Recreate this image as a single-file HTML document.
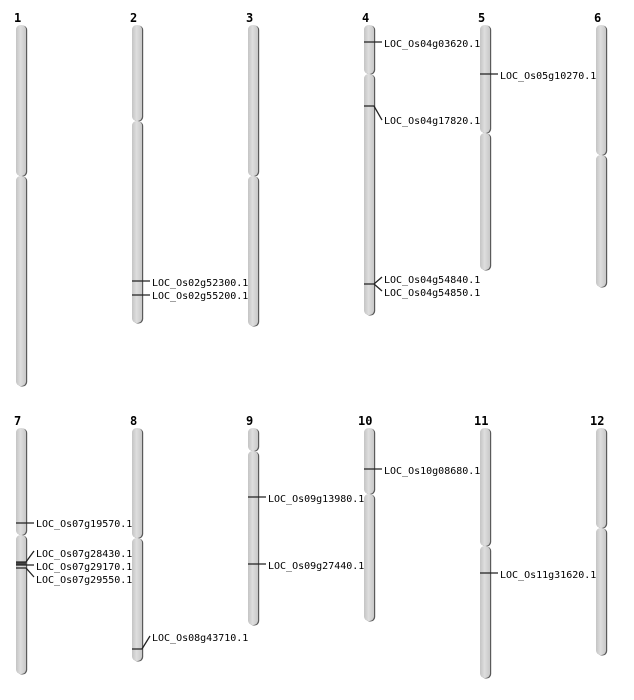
<!DOCTYPE html>
<html><head><meta charset="utf-8"><style>
html,body{margin:0;padding:0;background:#fff}
svg{display:block}
.n{font-family:"DejaVu Sans Mono","Liberation Mono",monospace;font-size:12px;font-weight:bold;fill:#000}
.l{font-family:"DejaVu Sans Mono","Liberation Mono",monospace;font-size:10px;fill:#000}
.m{stroke:#222;stroke-width:1.3;fill:none}
</style></head><body>
<svg width="634" height="700" viewBox="0 0 634 700" xmlns="http://www.w3.org/2000/svg">
<defs>
<linearGradient id="g" x1="0" x2="1" y1="0" y2="0">
<stop offset="0" stop-color="#c4c4c4"/><stop offset="0.45" stop-color="#dedede"/><stop offset="1" stop-color="#c8c8c8"/>
</linearGradient>
</defs>
<g id="chr"></g>
<text class="n" x="14" y="22">1</text>
<text class="n" x="130" y="22">2</text>
<text class="n" x="246" y="22">3</text>
<text class="n" x="362" y="22">4</text>
<text class="n" x="478" y="22">5</text>
<text class="n" x="594" y="22">6</text>
<text class="n" x="14" y="425">7</text>
<text class="n" x="130" y="425">8</text>
<text class="n" x="246" y="425">9</text>
<text class="n" x="358" y="425">10</text>
<text class="n" x="474" y="425">11</text>
<text class="n" x="590" y="425">12</text>
<path class="m" d="M132 281H150M132 295H150"/>
<text class="l" x="152" y="286">LOC_Os02g52300.1</text>
<text class="l" x="152" y="299">LOC_Os02g55200.1</text>
<path class="m" d="M364 42H382M364 106H374L382 120M364 284H374L382 277M374 284L382 291"/>
<text class="l" x="384" y="47">LOC_Os04g03620.1</text>
<text class="l" x="384" y="124">LOC_Os04g17820.1</text>
<text class="l" x="384" y="283">LOC_Os04g54840.1</text>
<text class="l" x="384" y="296">LOC_Os04g54850.1</text>
<path class="m" d="M480 74H498"/>
<text class="l" x="500" y="79">LOC_Os05g10270.1</text>
<path class="m" d="M16 523H34M16 562H26L34 551M16 565H34M16 568H26L34 577"/>
<path stroke="#444" stroke-width="2" d="M16 563.5H26"/>
<text class="l" x="36" y="527">LOC_Os07g19570.1</text>
<text class="l" x="36" y="557">LOC_Os07g28430.1</text>
<text class="l" x="36" y="570">LOC_Os07g29170.1</text>
<text class="l" x="36" y="583">LOC_Os07g29550.1</text>
<path class="m" d="M132 649H142L150 636"/>
<text class="l" x="152" y="641">LOC_Os08g43710.1</text>
<path class="m" d="M248 497H266M248 564H266"/>
<text class="l" x="268" y="502">LOC_Os09g13980.1</text>
<text class="l" x="268" y="569">LOC_Os09g27440.1</text>
<path class="m" d="M364 469H382"/>
<text class="l" x="384" y="474">LOC_Os10g08680.1</text>
<path class="m" d="M480 573H498"/>
<text class="l" x="500" y="578">LOC_Os11g31620.1</text>
</svg>
<script>
var segs=[[16,25,176,386],[132,25,121,323],[248,25,176,326],[364,25,74,315],[480,25,133,270],[596,25,155,287],
[16,428,535,674],[132,428,538,661],[248,428,451,625],[364,428,494,621],[480,428,546,678],[596,428,528,655]];
var ns="http://www.w3.org/2000/svg",g=document.getElementById("chr");
function r(x,y,w,h,f){var e=document.createElementNS(ns,"rect");e.setAttribute("x",x);e.setAttribute("y",y);e.setAttribute("width",w);e.setAttribute("height",h);e.setAttribute("rx",4.5);e.setAttribute("fill",f);g.appendChild(e);}
segs.forEach(function(s){var x=s[0];[[s[1],s[2]],[s[2],s[3]]].forEach(function(p){r(x+1.2,p[0]+0.5,10,p[1]-p[0],"#5a5a5a");});[[s[1],s[2]],[s[2],s[3]]].forEach(function(p){r(x,p[0],10,p[1]-p[0],"url(#g)");});});
</script>
</body></html>
